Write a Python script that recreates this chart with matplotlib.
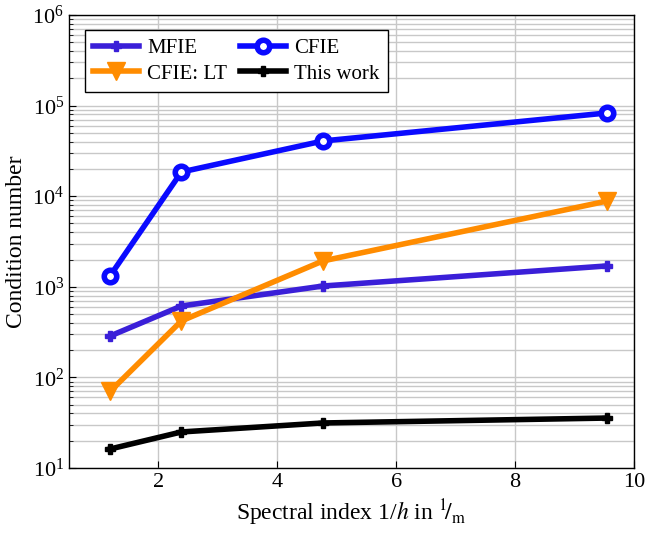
import matplotlib
matplotlib.use('Agg')
import matplotlib.pyplot as plt

# Data
spectral_index = [1.19, 2.39, 4.77, 9.55]
mfie = [286, 614, 1020, 1700]
cfie = [1320, 18500, 40700, 83000]
cfie_lt = [70, 420, 1930, 8850]
this_work = [16.2, 25, 31.4, 35.6]

plt.rcParams['font.family'] = ['Liberation Serif', 'DejaVu Serif']
plt.rcParams['mathtext.fontset'] = 'stix'

fig = plt.figure(figsize=(6.47, 5.38), dpi=100)
ax = fig.add_axes([69 / 647, 1 - 468 / 538, (634 - 69) / 647, (468 - 15) / 538])

lw = 4
l1, = ax.plot(spectral_index, mfie, color='#3a1fd8', lw=lw, marker='P', ms=7, label='MFIE')
l2, = ax.plot(spectral_index, cfie, color='#0a0aff', lw=lw, marker='o', ms=9,
              mfc='white', mew=4, label='CFIE')
l3, = ax.plot(spectral_index, cfie_lt, color='#ff8c00', lw=lw, marker='v', ms=13, label='CFIE: LT')
l4, = ax.plot(spectral_index, this_work, color='black', lw=lw, marker='P', ms=7, label='This work')

ax.set_yscale('log')
ax.set_xlim(0.5, 10)
ax.set_ylim(10, 1e6)
ax.set_xticks([2, 4, 6, 8, 10])
ax.grid(True, which='major', color='#c8c8c8', lw=1)
ax.grid(True, which='minor', axis='y', color='#c8c8c8', lw=1)
ax.tick_params(direction='in', which='both', labelsize=16, top=False, right=False)
ax.tick_params(which='major', length=5)
ax.tick_params(which='minor', length=3)
for s in ax.spines.values():
    s.set_linewidth(1)

ax.set_xlabel(r'Spectral index 1/$h$ in $^1\!/_{\rm m}$', fontsize=17)
ax.set_ylabel('Condition number', fontsize=17)

# row-wise order: MFIE, CFIE / CFIE: LT, This work
leg = ax.legend([l1, l3, l2, l4], ['MFIE', 'CFIE: LT', 'CFIE', 'This work'],
                ncol=2, loc='upper left', bbox_to_anchor=(0.028, 0.967), fontsize=15,
                fancybox=False, edgecolor='black', framealpha=1, handlelength=2.2,
                columnspacing=0.6, handletextpad=0.4, borderpad=0.4, labelspacing=0.3,
                borderaxespad=0)
leg.get_frame().set_linewidth(1)

fig.savefig('out.png', dpi=100)
